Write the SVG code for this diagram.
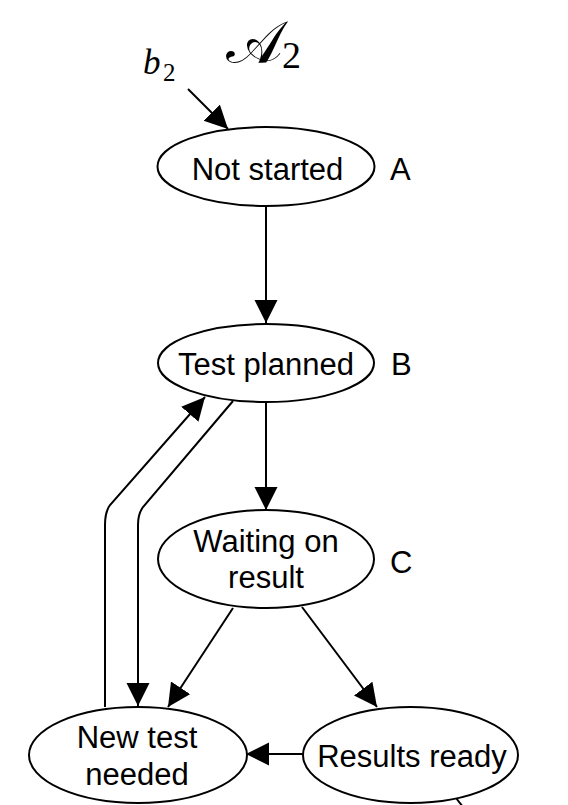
<svg xmlns="http://www.w3.org/2000/svg" width="568" height="805" viewBox="0 0 568 805">
<defs>
<style>
.node ellipse{fill:#fff;stroke:#000;stroke-width:2}
.lbl{font-family:"Liberation Sans",Arial,sans-serif;font-size:31px;fill:#000;text-anchor:middle}
.tag{font-family:"Liberation Sans",Arial,sans-serif;font-size:31px;fill:#000}
.edge{fill:none;stroke:#000;stroke-width:2;marker-end:url(#arr)}
.math{font-family:"Liberation Serif","DejaVu Serif",serif;fill:#000}
</style>
<marker id="arr" markerUnits="userSpaceOnUse" markerWidth="24" markerHeight="24" viewBox="0 0 24 24" refX="23" refY="11.5" orient="auto">
<path d="M0,0 L23,11.5 L0,23 z" fill="#000"/>
</marker>
</defs>
<rect width="568" height="805" fill="#fff"/>
<g id="title">
<text class="math" x="226" y="63" font-size="60">𝒜</text>
<text class="math" x="282" y="68" font-size="38">2</text>
</g>
<g id="connectors">
<path class="edge" d="M188,89 L228,129"/>
<path class="edge" d="M266,206 L266,323"/>
<path class="edge" d="M266,402 L266,510"/>
<path class="edge" d="M233,608 L168,707"/>
<path class="edge" d="M302,607 L377,707"/>
<path class="edge" d="M303,754 L246,754"/>
<path class="edge" d="M233,401 L143,507 Q138,514 138,525 L138,706"/>
<path class="edge" d="M105,707 L105,525 Q105,512 110,505 L205,397"/>
<path d="M456,798 L470,816" fill="none" stroke="#000" stroke-width="2"/>
</g>
<g id="b2">
<text class="math" x="143" y="74" font-size="35" font-style="italic">b</text>
<text class="math" x="163" y="81" font-size="25">2</text>
</g>
<g id="A" class="node">
<ellipse cx="266" cy="166.5" rx="108.5" ry="39.5"/>
<text class="lbl" x="267.5" y="180">Not started</text>
<text class="tag" x="390" y="180">A</text>
</g>
<g id="B" class="node">
<ellipse cx="266" cy="363" rx="108" ry="39"/>
<text class="lbl" x="266" y="375">Test planned</text>
<text class="tag" x="391" y="375">B</text>
</g>
<g id="C" class="node">
<ellipse cx="266" cy="559" rx="108" ry="49"/>
<text class="lbl" x="266" y="552">Waiting on</text>
<text class="lbl" x="266" y="588">result</text>
<text class="tag" x="390" y="573">C</text>
</g>
<g id="NT" class="node">
<ellipse cx="138" cy="755" rx="109" ry="48"/>
<text class="lbl" x="137" y="748">New test</text>
<text class="lbl" x="137" y="785">needed</text>
</g>
<g id="RR" class="node">
<ellipse cx="410.5" cy="755" rx="107.5" ry="48"/>
<text class="lbl" x="412" y="767">Results ready</text>
</g>
</svg>
